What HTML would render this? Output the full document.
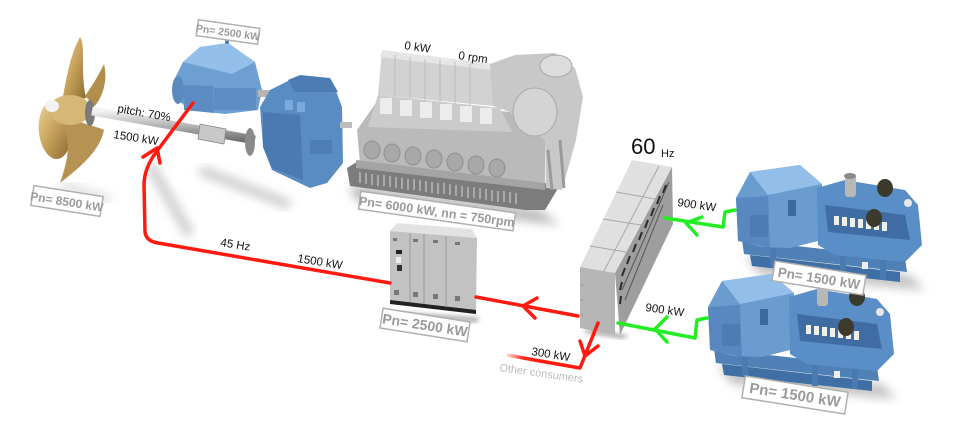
<!DOCTYPE html>
<html><head><meta charset="utf-8">
<style>
html,body{margin:0;padding:0;background:#fff;}
svg{display:block;}
text{font-family:"Liberation Sans",Arial,sans-serif;}
.lbl{fill:#9a9a9a;font-weight:bold;}
.box{fill:#fff;stroke:#b0b0b0;stroke-width:1.5;}
.t{fill:#111;font-size:11.5px;}
</style></head>
<body>
<svg width="980" height="430" viewBox="0 0 980 430" xmlns="http://www.w3.org/2000/svg">
<defs>
  <filter id="blur" x="-20%" y="-20%" width="140%" height="140%"><feGaussianBlur stdDeviation="5"/></filter>
  <filter id="blur2" x="-20%" y="-20%" width="140%" height="140%"><feGaussianBlur stdDeviation="2.5"/></filter>
  <linearGradient id="shaft" x1="0" y1="0" x2="0" y2="1">
    <stop offset="0" stop-color="#f2f2f2"/><stop offset="0.5" stop-color="#b5b5b5"/><stop offset="1" stop-color="#707070"/>
  </linearGradient>
  <linearGradient id="gold" x1="0" y1="0" x2="1" y2="1">
    <stop offset="0" stop-color="#e9d497"/><stop offset="0.5" stop-color="#c5a05a"/><stop offset="1" stop-color="#8a6a32"/>
  </linearGradient>
  <linearGradient id="redfade" x1="0" y1="0" x2="1" y2="0">
    <stop offset="0" stop-color="#ff3a2a" stop-opacity="0.2"/><stop offset="0.5" stop-color="#ff2a1a"/><stop offset="1" stop-color="#ff1a10"/>
  </linearGradient>
  <g id="gen">
    <polygon points="745,255 910,275 925,290 760,275" fill="#999" filter="url(#blur)" opacity="0.6"/>
    <polygon points="742,240 905,258 907,272 744,254" fill="#4f80b6"/>
    <polygon points="750,255 900,272 900,282 752,266" fill="#3f6fa5"/>
    <rect x="770" y="245" width="6" height="22" fill="#4a7bb0"/>
    <rect x="840" y="255" width="6" height="22" fill="#4a7bb0"/>
    <rect x="880" y="258" width="6" height="22" fill="#4a7bb0"/>
    <polygon points="736,198 750,172 800,165 822,184 822,240 790,248 760,247 738,240" fill="#6b9cd0"/>
    <polygon points="750,172 800,165 822,184 768,195" fill="#93bee9"/>
    <polygon points="736,198 768,196 770,248 738,241" fill="#5888bf"/>
    <rect x="750" y="215" width="18" height="22" fill="#4c7cb2"/>
    <rect x="788" y="200" width="8" height="16" fill="#3d6a9d"/>
    <polygon points="817,188 845,180 905,190 918,205 922,245 905,262 835,255 818,245" fill="#5a8ec6"/>
    <polygon points="825,205 905,215 910,240 828,232" fill="#3f6da3"/>
    <g fill="#f0f0ea">
      <rect x="834" y="216" width="5" height="9"/><rect x="842" y="217" width="5" height="9"/>
      <rect x="850" y="218" width="5" height="9"/><rect x="858" y="219" width="5" height="9"/>
      <rect x="866" y="220" width="5" height="9"/><rect x="874" y="221" width="5" height="9"/>
      <rect x="882" y="222" width="5" height="9"/>
    </g>
    <rect x="845" y="175" width="11" height="22" rx="3" fill="#b8b8b4"/>
    <ellipse cx="850" cy="176" rx="6" ry="3" fill="#888"/>
    <ellipse cx="885" cy="188" rx="8" ry="9" fill="#3c3a2c"/>
    <ellipse cx="874" cy="218" rx="8" ry="9" fill="#3c3a2c"/>
    <circle cx="908" cy="203" r="4" fill="#e8e8e8"/>
    <rect x="862" y="262" width="6" height="7" fill="#eee"/>
  </g>
</defs>

<!-- soft shadows -->
<path d="M150,165 L190,235" stroke="#aaa" stroke-width="10" filter="url(#blur)" opacity="0.6"/>
<path d="M200,170 L290,205" stroke="#aaa" stroke-width="10" filter="url(#blur)" opacity="0.6"/>
<path d="M60,185 L110,200" stroke="#bbb" stroke-width="8" filter="url(#blur)" opacity="0.5"/>
<polygon points="350,185 540,210 560,225 355,200" fill="#888" filter="url(#blur)" opacity="0.6"/>

<!-- propeller -->
<path d="M62,102 C66,80 70,55 80,37 C86,45 80,70 86,98 Z" fill="url(#gold)"/>
<path d="M85,96 C95,82 100,72 104,64 C108,80 103,96 95,106 Z" fill="#b18e4c"/>
<path d="M48,102 C38,110 36,130 42,145 C48,160 60,165 68,150 L70,115 Z" fill="url(#gold)"/>
<path d="M68,118 C85,124 98,127 104,130 C100,150 82,166 60,183 C66,165 72,146 64,130 Z" fill="#b69352"/>
<ellipse cx="70" cy="110" rx="21" ry="15" fill="#d5b875"/>
<ellipse cx="52" cy="106" rx="7" ry="6" fill="#f2f2f2"/>
<ellipse cx="90" cy="113" rx="5" ry="13" fill="#7a7a7a"/>

<!-- shaft -->
<path d="M92,111 L255,140" stroke="url(#shaft)" stroke-width="9"/>
<polygon points="200,124 226,129 224,144 198,139" fill="#c8c8c8" stroke="#888" stroke-width="0.8"/>
<ellipse cx="250" cy="142" rx="5" ry="14" fill="#8a8a8a"/>

<!-- motor -->
<polygon points="175,78 183,62 200,47 228,43 255,62 262,90 258,110 225,114 190,110 173,96" fill="#6e9fd3"/>
<polygon points="183,62 200,47 228,43 255,62 232,74" fill="#93bfea"/>
<polygon points="183,85 213,86 214,113 184,110" fill="#5b8cc3"/>
<ellipse cx="178" cy="90" rx="6" ry="14" fill="#5a89be"/>
<rect x="214" y="88" width="42" height="22" fill="#5d8dc2"/>
<rect x="258" y="90" width="14" height="7" fill="#b5b5b5"/>
<circle cx="227" cy="42" r="2" fill="#4a78aa"/>

<!-- gearbox -->
<polygon points="260,107 270,90 290,80 333,83 342,107 343,163 327,183 310,188 272,170 263,147" fill="#5a8cc4"/>
<polygon points="288,80 300,75 330,78 338,92 295,92" fill="#4c7cb2"/>
<polygon points="263,112 300,115 303,180 272,168 263,147" fill="#4a7ab0"/>
<rect x="285" y="100" width="8" height="10" fill="#7aaadc"/>
<rect x="297" y="102" width="8" height="10" fill="#7aaadc"/>
<rect x="310" y="140" width="22" height="14" fill="#4d7db3"/>
<rect x="340" y="122" width="12" height="6" fill="#bdbdbd"/>

<!-- main engine -->
<polygon points="347,168 360,160 560,185 545,210 525,210 350,186" fill="#7c7c7c"/>
<g stroke="#c8c8c8" stroke-width="1.2">
  <path d="M360,172 v11 M366,173 v11 M372,174 v11 M378,175 v11 M384,175 v11 M390,176 v11 M396,177 v11 M402,178 v11 M408,179 v11 M414,179 v11 M420,180 v11 M426,181 v11 M432,182 v11 M438,183 v11 M444,183 v11 M450,184 v11 M456,185 v11 M462,186 v11 M468,187 v11 M474,187 v11 M480,188 v11 M486,189 v11 M492,190 v11 M498,191 v11 M504,191 v11 M510,192 v11 M516,193 v11"/>
</g>
<polygon points="357,130 378,100 510,112 545,140 545,185 360,163" fill="#bababa"/>
<polygon points="356,160 545,183 545,190 356,168" fill="#a4a4a4"/>
<g fill="#a8a8a8" stroke="#909090" stroke-width="1">
  <ellipse cx="372" cy="150" rx="8" ry="9"/><ellipse cx="392" cy="153" rx="8" ry="9"/>
  <ellipse cx="413" cy="156" rx="8" ry="9"/><ellipse cx="434" cy="159" rx="8" ry="9"/>
  <ellipse cx="455" cy="162" rx="8" ry="9"/><ellipse cx="476" cy="165" rx="8" ry="9"/>
  <ellipse cx="497" cy="168" rx="8" ry="9"/>
</g>
<polygon points="378,95 500,108 512,132 368,127" fill="#cbcbcb"/>
<g fill="#ececec">
  <rect x="380" y="98" width="12" height="16"/><rect x="400" y="100" width="12" height="16"/>
  <rect x="420" y="102" width="12" height="16"/><rect x="440" y="104" width="12" height="16"/>
  <rect x="460" y="106" width="12" height="16"/><rect x="480" y="108" width="12" height="16"/>
</g>
<polygon points="382,50 493,64 493,106 378,95" fill="#d2d2d2"/>
<polygon points="382,50 493,64 491,70 380,57" fill="#e6e6e6"/>
<g stroke="#bcbcbc" stroke-width="1">
  <path d="M395,55 v42 M410,57 v42 M425,59 v42 M440,60 v42 M455,62 v42 M470,64 v42"/>
</g>
<polygon points="490,64 515,55 555,53 575,68 583,97 576,140 562,190 546,188 545,140 510,112 493,106" fill="#c8c8c8"/>
<ellipse cx="535" cy="112" rx="22" ry="24" fill="#d4d4d4" stroke="#aaa"/>
<ellipse cx="556" cy="66" rx="16" ry="11" fill="#dcdcdc" stroke="#aaa"/>
<path d="M548,150 L552,190 M560,140 L564,188" stroke="#9a9a9a" stroke-width="3"/>

<!-- frequency converter -->
<polygon points="392,312 478,318 478,322 392,316" fill="#999" filter="url(#blur2)"/>
<polygon points="390,231 397,223 472,229 477,238" fill="#e2e2e2"/>
<polygon points="390,231 477,238 476,312 390,302" fill="#c2c2c2"/>
<polygon points="390,300 476,310 476,314 390,304" fill="#222"/>
<g stroke="#9a9a9a" stroke-width="1"><path d="M410,233 v69 M424,234 v70 M446,236 v71"/></g>
<g fill="#777">
  <rect x="393" y="238" width="4" height="3"/><rect x="413" y="239" width="5" height="3"/>
  <rect x="433" y="240" width="5" height="3"/><rect x="455" y="242" width="5" height="3"/>
  <rect x="394" y="290" width="5" height="5"/><rect x="413" y="292" width="5" height="5"/>
  <rect x="433" y="294" width="5" height="5"/><rect x="455" y="296" width="5" height="5"/>
</g>
<rect x="396" y="250" width="6" height="4" fill="#222"/>
<rect x="396" y="257" width="5" height="6" fill="#eee"/>
<rect x="397" y="265" width="5" height="6" fill="#333"/>

<!-- switchboard -->
<polygon points="582,332 622,338 630,336 590,330" fill="#888" filter="url(#blur2)"/>
<polygon points="615,273 672,167 673,224 620,335" fill="#9e9e9e"/>
<g stroke="#2a2a2a" stroke-width="2" fill="none">
  <path d="M666,185 l-3,8 M660,196 l-3,8 M654,208 l-3,8 M648,220 l-3,8 M642,232 l-3,8 M636,244 l-3,8 M630,256 l-3,8 M625,268 l-3,8 M622,282 l-2,8 M621,296 l-1,8"/>
</g>
<g stroke="#555" stroke-width="1" fill="none">
  <path d="M669,182 L622,290 M663,205 L625,300"/>
</g>
<polygon points="632,160 672,167 615,273 580,267" fill="#e0e0e0"/>
<g stroke="#a8a8a8" stroke-width="1" fill="none">
  <path d="M659,166 L604,271"/>
  <path d="M616,192 L655,199 M603,219 L641,225 M590,246 L626,252"/>
</g>
<polygon points="580,267 615,273 615,335 580,328" fill="#b6b6b6"/>
<g fill="#888"><circle cx="582" cy="285" r="0.8"/><circle cx="582" cy="300" r="0.8"/><circle cx="582" cy="315" r="0.8"/></g>

<!-- generators -->
<use href="#gen"/>
<use href="#gen" transform="translate(-28,109)"/>

<!-- red lines -->
<g fill="none" stroke="#ff1a10" stroke-width="3.5" stroke-linejoin="round" stroke-linecap="round">
  <path d="M193,103 L157,151 Q144,168 144,185 L145,232 Q146,241 158,243 L390,283"/>
  <path d="M143,157 L157,148 L160,163"/>
  <path d="M476,297 L578,316"/>
  <path d="M537,298 L523,306 L535,318"/>
  <path d="M598,323 L580,368 L540,361"/>
  <path d="M580,341 L585,356 L598,346"/>
</g>
<path d="M540,361 L507,355" stroke="url(#redfade)" stroke-width="3.5" fill="none"/>

<!-- green lines -->
<g fill="none" stroke="#22ee22" stroke-width="3.5" stroke-linejoin="round" stroke-linecap="round">
  <path d="M665,218 L723,227 L725,212 L735,210"/>
  <path d="M702,217 L686,223 L697,235"/>
  <path d="M618,323 L695,338 L697,320 L707,318"/>
  <path d="M667,317 L655,329 L667,342"/>
</g>

<!-- labels (boxes) -->
<g transform="rotate(9 67 201)"><rect class="box" x="32" y="191" width="70" height="20"/><text class="lbl" x="67" y="206" font-size="12" text-anchor="middle">Pn= 8500 kW</text></g>
<g transform="rotate(8 228 32)"><rect class="box" x="197" y="24" width="62" height="16"/><text class="lbl" x="228" y="36" font-size="10.5" text-anchor="middle">Pn= 2500 kW</text></g>
<g transform="rotate(8 437 211)"><rect class="box" x="359" y="202" width="156" height="18"/><text class="lbl" x="437" y="216" font-size="12.5" text-anchor="middle">Pn= 6000 kW, nn = 750rpm</text></g>
<g transform="rotate(9 425 325)"><rect class="box" x="381" y="315" width="88" height="20"/><text class="lbl" x="425" y="330" font-size="14" text-anchor="middle">Pn= 2500 kW</text></g>
<g transform="rotate(9 819 278)"><rect class="box" x="773" y="268" width="92" height="20"/><text class="lbl" x="819" y="283" font-size="13.5" text-anchor="middle">Pn= 1500 kW</text></g>
<g transform="rotate(9 795 395)"><rect class="box" x="743" y="384" width="104" height="22"/><text class="lbl" x="795" y="400" font-size="15" text-anchor="middle">Pn= 1500 kW</text></g>

<!-- text labels -->
<text class="t" x="117" y="112" transform="rotate(10 117 112)">pitch: 70%</text>
<text class="t" x="113" y="138" transform="rotate(9 113 138)">1500 kW</text>
<text class="t" x="404" y="49" transform="rotate(8 404 49)" font-size="11">0 kW</text>
<text class="t" x="458" y="59" transform="rotate(8 458 59)" font-size="11">0 rpm</text>
<text x="631" y="154" font-size="22" fill="#111">60</text>
<text x="661" y="157" font-size="11" fill="#111">Hz</text>
<text class="t" x="677" y="206" transform="rotate(8 677 206)" font-size="11">900 kW</text>
<text class="t" x="645" y="311" transform="rotate(8 645 311)" font-size="11">900 kW</text>
<text class="t" x="220" y="246" transform="rotate(9 220 246)" font-size="11">45 Hz</text>
<text class="t" x="297" y="262" transform="rotate(9 297 262)" font-size="11">1500 kW</text>
<text class="t" x="531" y="355" transform="rotate(9 531 355)" font-size="11">300 kW</text>
<text x="499" y="371" transform="rotate(8 499 371)" font-size="11" fill="#bbbbbb">Other consumers</text>
</svg>
</body></html>
